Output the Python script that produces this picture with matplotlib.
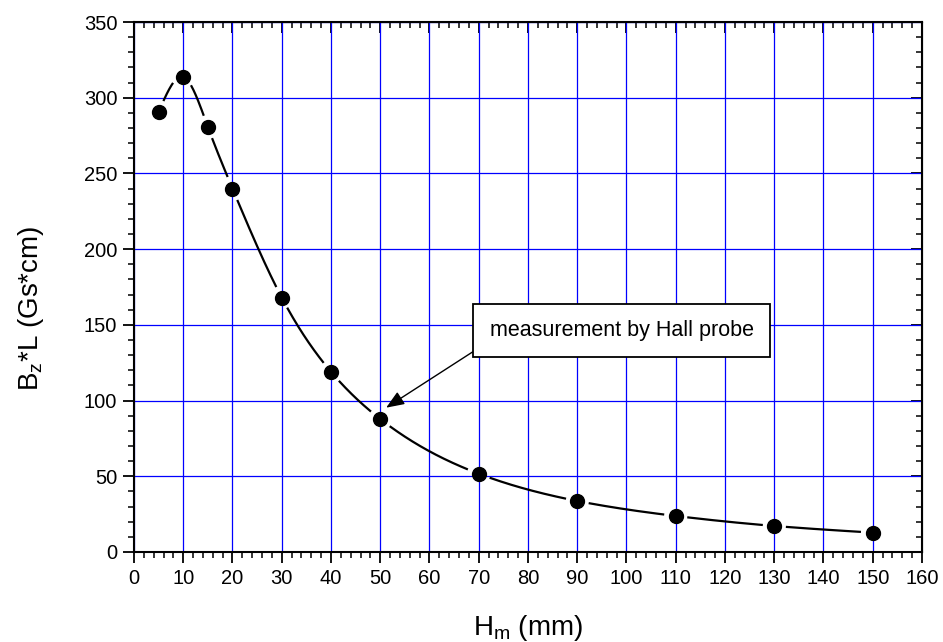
import matplotlib
matplotlib.use('Agg')
import matplotlib.pyplot as plt
import numpy as np
from matplotlib.ticker import MultipleLocator

plt.rcParams['font.family'] = ['Liberation Sans', 'DejaVu Sans']
plt.rcParams['mathtext.fontset'] = 'custom'
plt.rcParams['mathtext.rm'] = 'Liberation Sans'
plt.rcParams['mathtext.it'] = 'Liberation Sans:italic'

# magnet height vs integrated field
h_mm = [5, 10, 15, 20, 30, 40, 50, 70, 90, 110, 130, 150]
bz_l = [290.6, 313.8, 280.7, 240.0, 168.0, 119.0, 87.8, 51.7, 33.7, 23.8, 17.2, 12.8]

note_text = 'measurement by Hall probe'
note_point = (50, 87.8)


def natural_spline(x, y, xs):
	# plain natural cubic spline, no scipy needed
	x = np.asarray(x, float)
	y = np.asarray(y, float)
	n = len(x)
	h = np.diff(x)
	A = np.zeros((n, n))
	r = np.zeros(n)
	A[0, 0] = A[-1, -1] = 1
	for i in range(1, n - 1):
		A[i, i - 1] = h[i - 1]
		A[i, i] = 2 * (h[i - 1] + h[i])
		A[i, i + 1] = h[i]
		r[i] = 3 * ((y[i + 1] - y[i]) / h[i] - (y[i] - y[i - 1]) / h[i - 1])
	c = np.linalg.solve(A, r)
	b = (y[1:] - y[:-1]) / h - h * (2 * c[:-1] + c[1:]) / 3
	d = (c[1:] - c[:-1]) / (3 * h)
	idx = np.clip(np.searchsorted(x, xs) - 1, 0, n - 2)
	t = xs - x[idx]
	return y[idx] + b[idx] * t + c[idx] * t ** 2 + d[idx] * t ** 3


fig = plt.figure(figsize=(9.43, 6.42), dpi=100)
ax = fig.add_axes([0.1421, 0.1402, 0.8356, 0.8255])

ax.set_xlim(0, 160)
ax.set_ylim(0, 350)
ax.xaxis.set_major_locator(MultipleLocator(10))
ax.xaxis.set_minor_locator(MultipleLocator(2))
ax.yaxis.set_major_locator(MultipleLocator(50))
ax.yaxis.set_minor_locator(MultipleLocator(10))
ax.grid(which='major', color='blue', lw=0.9, zorder=0)
ax.set_axisbelow(True)

for s in ax.spines.values():
	s.set_linewidth(1.5)
ax.tick_params(which='major', direction='out', length=8, width=1.3, labelsize=14.5, pad=4)
ax.tick_params(which='minor', direction='out', length=4.5, width=1.1)

# top and right: ticks pointing inward, no labels
top = ax.secondary_xaxis('top')
top.xaxis.set_major_locator(MultipleLocator(10))
top.xaxis.set_minor_locator(MultipleLocator(2))
top.tick_params(which='major', direction='in', length=8, width=1.3, labeltop=False)
top.tick_params(which='minor', direction='in', length=4.5, width=1.1)
right = ax.secondary_yaxis('right')
right.yaxis.set_major_locator(MultipleLocator(50))
right.yaxis.set_minor_locator(MultipleLocator(10))
right.tick_params(which='major', direction='in', length=8, width=1.3, labelright=False)
right.tick_params(which='minor', direction='in', length=4.5, width=1.1)

# spline curve, broken around each marker
xs = np.linspace(h_mm[0], h_mm[-1], 1500)
ys = natural_spline(h_mm, bz_l, xs)
curve_px = ax.transData.transform(np.column_stack([xs, ys]))
pts_px = ax.transData.transform(np.column_stack([h_mm, bz_l]))
dist = np.min(np.hypot(curve_px[:, None, 0] - pts_px[None, :, 0],
					   curve_px[:, None, 1] - pts_px[None, :, 1]), axis=1)
ys = np.where(dist < 12.5, np.nan, ys)
ax.plot(xs, ys, color='black', lw=1.6, zorder=3)
ax.plot(h_mm, bz_l, 'o', color='black', ms=10, zorder=4)

ax.annotate(note_text, xy=(note_point[0] + 1.2, note_point[1] + 7.5), xytext=(99, 146.3),
			fontsize=15.5, ha='center', va='center', zorder=5,
			bbox=dict(boxstyle='square,pad=0.75', fc='white', ec='black', lw=1.3),
			arrowprops=dict(arrowstyle='-|>,head_length=0.5,head_width=0.2', color='black', lw=1.0,
							mutation_scale=22, shrinkA=0, shrinkB=0,
							relpos=(0.015, 0.12)))

ax.set_xlabel(r'H$_\mathregular{m}$ (mm)', fontsize=20, labelpad=18)
ax.set_ylabel(r'B$_\mathregular{z}$*L (Gs*cm)', fontsize=20)
ax.yaxis.set_label_coords(-0.112, 0.46)

fig.savefig('out.png', dpi=100)
